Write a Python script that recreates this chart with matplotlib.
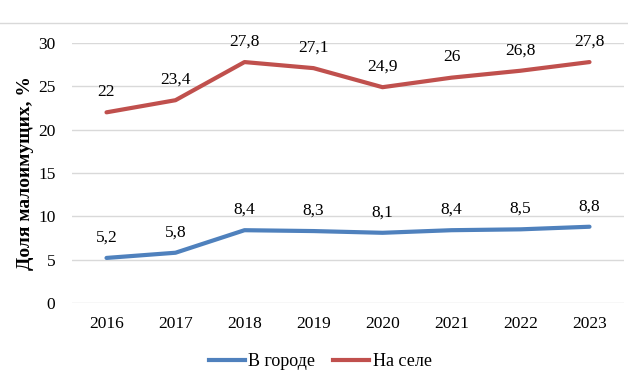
import matplotlib.pyplot as plt
from matplotlib.lines import Line2D

years = ['2016', '2017', '2018', '2019', '2020', '2021', '2022', '2023']
city = [5.2, 5.8, 8.4, 8.3, 8.1, 8.4, 8.5, 8.8]
village = [22, 23.4, 27.8, 27.1, 24.9, 26, 26.8, 27.8]

plt.rcParams['font.family'] = ['Liberation Serif', 'DejaVu Serif']

blue = '#4F81BD'
red = '#C0504D'

fig = plt.figure(figsize=(6.28, 3.86), dpi=100)
ax = fig.add_axes([72 / 628, 1 - 303 / 386, 552 / 628, 260 / 386])

x = range(len(years))
ax.plot(x, city, color=blue, lw=3, solid_capstyle='round', label='В городе')
ax.plot(x, village, color=red, lw=3, solid_capstyle='round', label='На селе')

for xi, v in zip(x, city):
    ax.annotate(str(v).replace('.', ','), (xi, v), xytext=(0, 9), textcoords='offset points',
                ha='center', va='bottom', fontsize=12.5)
for xi, v in zip(x, village):
    ax.annotate(str(v).replace('.', ','), (xi, v), xytext=(0, 9), textcoords='offset points',
                ha='center', va='bottom', fontsize=12.5)

ax.set_xlim(-0.5, len(years) - 0.5)
ax.set_ylim(0, 30)
ax.set_yticks(range(0, 31, 5))
ax.set_xticks(list(x))
ax.set_xticklabels(years)
ax.grid(axis='y', color='#d9d9d9', lw=1)
ax.set_axisbelow(True)
for s in ax.spines.values():
    s.set_visible(False)
ax.tick_params(length=0, labelsize=12.5)
ax.tick_params(axis='x', pad=9)
ax.tick_params(axis='y', pad=12)
ax.set_ylabel('Доля малоимущих, %', fontsize=14, fontweight='bold', va='center')
ax.yaxis.set_label_coords(-0.085, 0.5)

# chart area border line at top
fig.add_artist(Line2D([0, 1], [1 - 23 / 386, 1 - 23 / 386], color='#d9d9d9', lw=1))

handles = [Line2D([], [], color=blue, lw=3), Line2D([], [], color=red, lw=3)]
fig.legend(handles, ['В городе', 'На селе'], loc='center', bbox_to_anchor=(0.51, 1 - 362 / 386),
           ncol=2, frameon=False, fontsize=13, handlelength=2.0, handletextpad=0.2, columnspacing=1.0)

fig.savefig('out.png', dpi=100)
